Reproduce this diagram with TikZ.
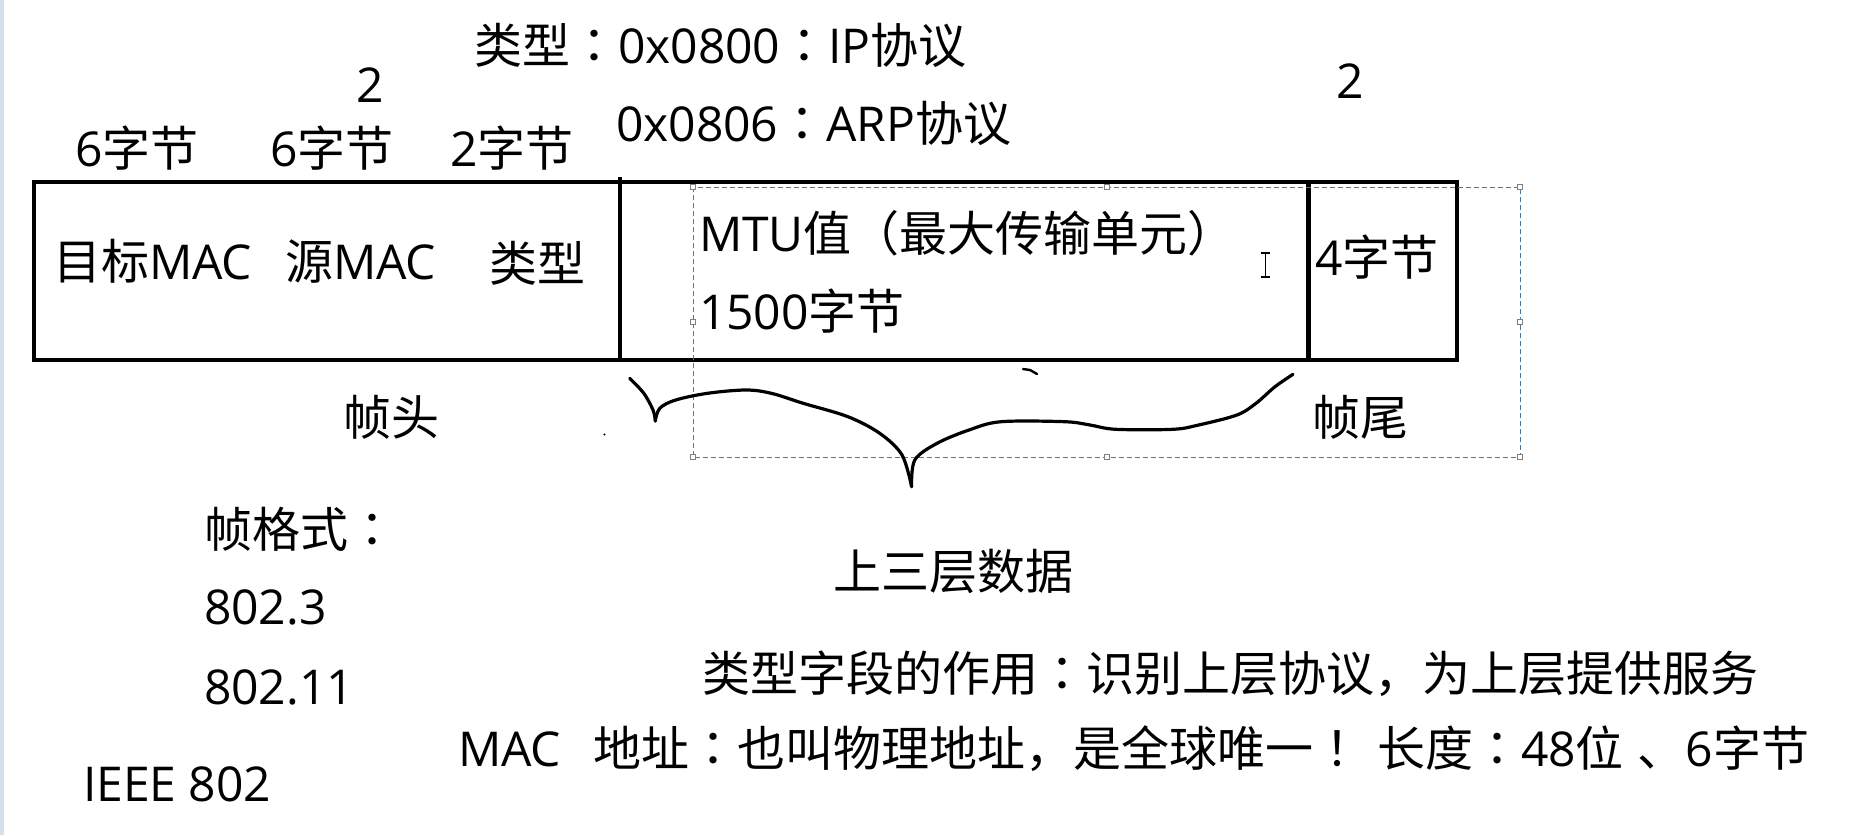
\documentclass[tikz,border=0pt]{standalone}
\usepackage{fontspec}
\setmainfont{Noto Sans CJK SC}
\newfontfamily\lt{Open Sans}
\newfontfamily\tcp{Noto Sans CJK TC}
\newcommand\fcolon{{\tcp ：}}
\newcommand\fexcl{{\tcp ！}}
\definecolor{stripc}{HTML}{D5DEEA}
\definecolor{selc}{HTML}{3D7DAA}
\definecolor{handlec}{HTML}{808080}
\begin{document}
\begin{tikzpicture}[x=1pt,y=-1pt,
  every node/.style={inner sep=0pt, outer sep=0pt, font=\fontsize{48}{56}\selectfont},
  lbl/.style={anchor=base west},
  frame/.style={line width=4.8pt, line cap=rect},
  divider/.style={line width=3.6pt},
  divthick/.style={line width=4.8pt},
  sel/.style={draw=selc, line width=0.9pt, dash pattern=on 5pt off 3pt},
  handle/.style={draw=handlec, fill=white, line width=0.8pt, minimum size=5pt, inner sep=0pt, shape=rectangle},
  pen/.style={line width=3.2pt, line cap=round, line join=round}]
\useasboundingbox (0,0) rectangle (1857,835);
\fill[white] (0,0) rectangle (1857,835);
\fill[stripc] (0,0) rectangle (4,835);

% frame
\coordinate (tl) at (34,182);
\coordinate (br) at (1457,360);
\draw[frame] (tl) rectangle (br);
\coordinate (d1t) at (620,177);
\coordinate (d1b) at (620,360);
\draw[divider] (d1t) -- (d1b);
\coordinate (d2t) at (1308.5,182);
\coordinate (d2b) at (1308.5,360);
\draw[divthick] (d2t) -- (d2b);

% selection box
\coordinate (s1) at (693,187);
\coordinate (s2) at (1520,457);
\draw[sel] (s1) rectangle (s2);
\foreach \hx/\hy [count=\i] in {693/187,1106.5/187,1520/187,693/322,1520/322,693/457,1106.5/457,1520/457}
  \node[handle] (h\i) at (\hx,\hy) {};

% text cursor
\coordinate (ib1) at (1265.5,253);
\coordinate (ib2) at (1265.5,277);
\draw[line width=1.4pt] (ib1) -- (ib2);
\draw[line width=1.2pt] (1261,253) -- (1270,253) (1261,277) -- (1270,277);

% texts in the frame
\node[lbl] (dst) at (53,279) {目标{\lt MAC}};
\node[lbl] (src) at (285,279) {源{\lt MAC}};
\node[lbl] (typ) at (489,281) {类型};
\node[lbl] (mtu) at (699,251) {{\lt MTU}值{\tcp （}最大传输单元{\tcp ）}};
\node[lbl] (n1500) at (699,329) {{\lt 1500}字节};
\node[lbl] (fcs) at (1315,275) {{\lt 4}字节};

% texts above
\node[lbl] (b1) at (75,166) {{\lt 6}字节};
\node[lbl] (b2) at (270,166) {{\lt 6}字节};
\node[lbl] (b3) at (450,166) {{\lt 2}字节};
\node[anchor=base] (two1) at (370,102) {\lt 2};
\node[anchor=base] (two2) at (1350,98) {\lt 2};
\node[lbl] (t1) at (474,63) {类型\fcolon{\lt 0x0800}\fcolon{\lt IP}协议};
\node[lbl] (t2) at (616,141) {{\lt 0x0806}\fcolon{\lt ARP}协议};

% below
\node[lbl] (head) at (343,435) {帧头};
\node[lbl] (tail) at (1312,435) {帧尾};
\node[lbl] (upper) at (833,589) {上三层数据};
\node[lbl] (fmt) at (204,547) {帧格式\fcolon};
\node[lbl] (s8023) at (204,624) {\lt 802.3};
\node[lbl] (s80211) at (204,704) {\lt 802.11};
\node[lbl] (ieee) at (83,801) {\lt IEEE 802};
\node[lbl] (row1) at (702,691) {类型字段的作用\fcolon 识别上层协议，为上层提供服务};
\node[lbl] (row2) at (458,766) {{\lt MAC}\hspace{32pt}地址\fcolon 也叫物理地址，是全球唯一\fexcl\hspace{16pt}长度\fcolon{\lt 48}位\hspace{14pt}、{\lt 6}字节};

% freehand brace
\draw[pen] plot[smooth, tension=0.55] coordinates {
  (629.7,378.3) (643.8,393.3) (653,410) (655.3,421)};
\draw[pen] plot[smooth, tension=0.55] coordinates {
  (655.3,421) (659.7,408.3) (675.7,400) (707.5,393.3) (745.8,390) (771.3,393.3)
  (803.2,403.3) (847.9,416.7) (879.7,433.3) (902,455) (911.6,486.7)};
\draw[pen] plot[smooth, tension=0.55] coordinates {
  (911.6,486.7) (914.8,460) (937.1,443.3) (969,430) (1001,421.7) (1064.7,421.7)
  (1090,425) (1115.7,429.3) (1173,429.3) (1198.6,425) (1236.9,415) (1256,403.3)
  (1275,386.7) (1293,374.3)};
\draw[line width=2.4pt, line cap=round] (1023,369) -- (1030,370) -- (1037,374);
\fill (604.5,434.5) circle (1.2pt);
\end{tikzpicture}
\end{document}
